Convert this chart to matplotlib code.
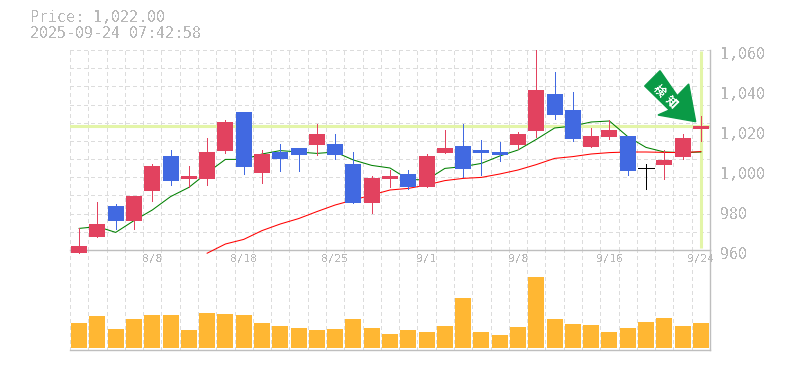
"""Candlestick chart with moving averages and volume panel."""

import matplotlib
matplotlib.use("Agg")
import matplotlib.pyplot as plt
import matplotlib.patches as mpatches
import matplotlib.transforms as mtrans
import numpy as np

W, H = 785, 370

PRICE_TEXT = "Price: 1,022.00"
TIME_TEXT = "2025-09-24 07:42:58"

opens = [958.6, 966.6, 982, 974.7, 989.7, 1007, 995.7, 995.7, 1009.7, 1029, 998.7, 1009, 1011, 1012.7,
         1013, 1003, 983.7, 995.7, 998, 991.7, 1008.7, 1012, 1010, 1009, 1012.7, 1019.7, 1038, 1030,
         1011.7, 1016.7, 1017, 1001, 1002.7, 1006.7, 1020.7]
closes = [962, 973, 974.7, 987, 1002, 994.7, 997, 1009, 1024, 1001.7, 1008, 1005.7, 1007.7, 1018,
          1007.7, 983.7, 996, 997, 991.7, 1007, 1011, 1000.7, 1008.7, 1007.7, 1018, 1040, 1027.7, 1015.7,
          1017, 1020, 999.7, 1001, 1005, 1016, 1022]
highs = [970.8, 984, 983, 987, 1003, 1010, 1002, 1016, 1025, 1029, 1010, 1013, 1011, 1023,
         1018, 1009, 997, 1000, 1000, 1008, 1020, 1023, 1015, 1014, 1019, 1060, 1049, 1039,
         1021, 1025, 1017, 1003, 1010, 1018, 1027]
lows = [958.6, 966.6, 970.5, 970.7, 984.7, 992.7, 991.7, 992.7, 1008.7, 998, 993.7, 999.7, 999.7, 1007.7,
        1005.7, 983.7, 978.7, 991.7, 990.7, 991.7, 1008.7, 996.7, 997.7, 1004.7, 1010.7, 1016.7, 1025.7, 1014.7,
        1011.7, 1015.7, 997.7, 990.7, 995.7, 1005.7, 1014.7]
ma_short = [970.8, 971.7, 968.8, 974.7, 980, 986.7, 991.3, 998.6, 1005.3, 1005.3, 1008, 1009.7, 1009, 1008.3,
            1009, 1005, 1002.3, 1001, 995.3, 995, 1000.8, 1001.7, 1003.3, 1007, 1010, 1015.3, 1021, 1022,
            1024, 1024.5, 1016.7, 1011.3, 1009, 1008.7, 1009]
ma_long_start = 7
ma_long = [958.4, 963, 965.3, 969.7, 973, 975.7, 979.2, 982.5, 985, 987.5, 990, 990.8, 992.5, 994.7,
           995.8, 996.3, 998, 1000, 1002.7, 1005.8, 1006.7, 1008, 1008.7, 1009, 1009, 1008.8, 1008.7, 1009.2]
volumes = [25, 32, 19, 29, 33, 33, 18, 35, 34, 33, 25, 22, 20, 18, 19, 29, 20, 14,
           18, 16, 22, 50, 16, 13, 21, 71, 29, 24, 23, 16, 20, 26, 30, 22, 25]

date_slots = [4, 9, 14, 19, 24, 29, 34]
date_labels = ["8/8", "8/18", "8/25", "9/1", "9/8", "9/16", "9/24"]
price_ticks = [960, 980, 1000, 1020, 1040, 1060]
price_labels = ["960", "980", "1,000", "1,020", "1,040", "1,060"]
current_price = 1022

UP = "#E2425F"
DOWN = "#4169E1"
VOL = "#FFB733"
GRID = "#DCDCDC"
AXIS = "#BEBEBE"
TEXT = "#B8B8B8"
MARK = "#E3F5A8"
ARROW = "#0A9A46"
THIN = 0.6

plt.rcParams["font.family"] = ["DejaVu Sans Mono", "Liberation Mono"]
plt.rcParams["text.antialiased"] = False


def fig_rect(left, top, right, bottom):
    return [left / W, 1 - bottom / H, (right - left) / W, (bottom - top) / H]


def fig_xy(x, y):
    return x / W, 1 - y / H


fig = plt.figure(figsize=(W / 100, H / 100), dpi=100)
x = np.arange(len(opens))
slot_edges = np.arange(len(opens)) - 0.5
XLIM = (-0.5, len(opens) - 0.5)
DASH = (0, (4.5, 4))

# Volume panel sits behind and shares the vertical grid through the gap
ax_v = fig.add_axes(fig_rect(70, 250, 710, 350))
ax_v.set_xlim(XLIM)
ax_v.set_ylim(-2, 98)
ax_v.vlines(slot_edges, -2, 98, color=GRID, linewidth=THIN, linestyle=DASH, zorder=1, antialiased=False)
ax_v.bar(x, volumes, width=0.875, color=VOL, zorder=3, antialiased=False)
ax_v.set_xticks([])
ax_v.set_yticks([])
for side in ["top", "left"]:
    ax_v.spines[side].set_visible(False)
for side in ["bottom", "right"]:
    ax_v.spines[side].set_color(AXIS)
    ax_v.spines[side].set_linewidth(1.0)

# Price panel
ax = fig.add_axes(fig_rect(70, 50, 710, 250))
ax.patch.set_alpha(0)
ax.set_xlim(XLIM)
ax.set_ylim(960, 1060)
ax.vlines(slot_edges, 960, 1060, color=GRID, linewidth=THIN, linestyle=DASH, zorder=1, antialiased=False)
ax.hlines(960 + np.arange(1, 12) * 100 / 11, *XLIM, color=GRID, linewidth=THIN,
          linestyle=DASH, zorder=1, antialiased=False)

# Current price / current time crosshair
ax.axhline(current_price, color=MARK, linewidth=2.2, zorder=2)
ax.vlines(x[-1], 961, 1059.5, color=MARK, linewidth=2.2, zorder=2)

ax.plot(x, ma_short, color="#008000", linewidth=0.75, zorder=3)
ax.plot(x[ma_long_start:], ma_long, color="#FF0000", linewidth=0.75, zorder=3, clip_on=False)

for i in x:
    o, c = opens[i], closes[i]
    color = UP if c > o else DOWN if c < o else "black"
    ax.vlines(i, lows[i], highs[i], color=color, linewidth=THIN, zorder=4, antialiased=False, clip_on=False)
    if c == o:
        ax.hlines(c, i - 0.44, i + 0.44, color=color, linewidth=THIN, zorder=4, antialiased=False)
    else:
        ax.bar(i, abs(c - o), bottom=min(o, c), width=0.875, color=color, zorder=5,
               antialiased=False, clip_on=False)

ax.set_xticks(x[date_slots], date_labels)
ax.yaxis.tick_right()
ax.set_yticks(price_ticks, price_labels)
ax.tick_params(axis="x", length=0, pad=3, labelsize=8, labelcolor=TEXT)
ax.tick_params(axis="y", length=0, pad=7, labelsize=10.8, labelcolor=TEXT)
offset = mtrans.ScaledTranslation(0, -3 / 100, fig.dpi_scale_trans)
for lab in ax.get_yticklabels():
    lab.set_transform(lab.get_transform() + offset)
for side in ["top", "left"]:
    ax.spines[side].set_visible(False)
for side in ["bottom", "right"]:
    ax.spines[side].set_color(AXIS)
    ax.spines[side].set_linewidth(1.0)

# Signal arrow
arrow_px = [(660, 70.7), (644.7, 86), (669.3, 110), (658, 115), (695.7, 121.7), (688.7, 84), (677.3, 95.7)]
ax.add_patch(mpatches.Polygon([fig_xy(*p) for p in arrow_px], closed=True, color=ARROW,
                              transform=fig.transFigure, zorder=6, clip_on=False))
for ch, px, py in [("検", 659.5, 90.5), ("知", 671.5, 101.5)]:
    fig.text(*fig_xy(px, py), ch, rotation=-45, ha="center", va="center", color="white",
             fontsize=8.5, fontweight="bold", family=["Noto Sans CJK JP", "DejaVu Sans"],
             rotation_mode="anchor", zorder=7)

fig.text(*fig_xy(30, 18), PRICE_TEXT, color=TEXT, fontsize=10.8, va="center", ha="left")
fig.text(*fig_xy(30, 33), TIME_TEXT, color=TEXT, fontsize=10.8, va="center", ha="left")

fig.savefig("out.png", dpi=100)
